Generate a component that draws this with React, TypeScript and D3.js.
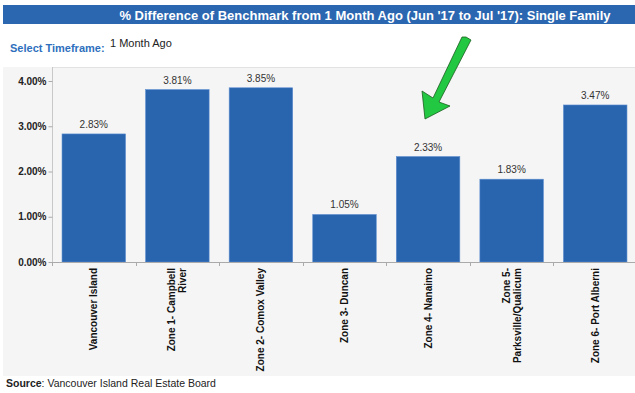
import React, { useEffect, useRef } from "react";
import * as d3 from "d3";

// chart data
const categories = [
  "Vancouver Island",
  "Zone 1- Campbell River",
  "Zone 2- Comox Valley",
  "Zone 3- Duncan",
  "Zone 4- Nanaimo",
  "Zone 5- Parksville/Qualicum",
  "Zone 6- Port Alberni",
];
// how the axis labels wrap
const labelLines = [
  ["Vancouver Island"],
  ["Zone 1- Campbell", "River"],
  ["Zone 2- Comox Valley"],
  ["Zone 3- Duncan"],
  ["Zone 4- Nanaimo"],
  ["Zone 5-", "Parksville/Qualicum"],
  ["Zone 6- Port Alberni"],
];
const values = [2.83, 3.81, 3.85, 1.05, 2.33, 1.83, 3.47];
const yTicks = [0, 1, 2, 3, 4];

const title = "% Difference of Benchmark from 1 Month Ago (Jun '17 to Jul '17): Single Family";

const App: React.FC = () => {
  const ref = useRef<HTMLDivElement>(null);

  useEffect(() => {
    if (!ref.current) return;
    d3.select(ref.current).selectAll("svg").remove();

    const width = 635;
    const height = 393;
    const font = "Arial, 'Liberation Sans', sans-serif";
    const blue = "#2964ae";

    const svg = d3.select(ref.current)
      .append("svg")
      .attr("width", width)
      .attr("height", height)
      .style("display", "block")
      .style("font-family", font);

    svg.append("rect").attr("width", width).attr("height", height).attr("fill", "#fff");

    // title bar
    svg.append("rect")
      .attr("x", 3).attr("y", 5).attr("width", width - 3).attr("height", 19)
      .attr("fill", "#2b66b0");
    svg.append("text")
      .attr("x", 365).attr("y", 19.5)
      .attr("text-anchor", "middle")
      .attr("fill", "#fff")
      .style("font-size", "13px")
      .style("font-weight", "bold")
      .text(title);

    // timeframe selector
    svg.append("text")
      .attr("x", 10).attr("y", 52)
      .attr("fill", "#2e6fbd")
      .style("font-size", "11px")
      .style("font-weight", "bold")
      .text("Select Timeframe:");
    svg.append("text")
      .attr("x", 110).attr("y", 47)
      .attr("fill", "#222")
      .style("font-size", "11px")
      .text("1 Month Ago");

    // panel background
    const panelTop = 67;
    svg.append("rect")
      .attr("x", 3).attr("y", panelTop).attr("width", width - 3).attr("height", 376 - panelTop)
      .attr("fill", "#f5f5f5");
    svg.append("line")
      .attr("x1", 52).attr("x2", width).attr("y1", panelTop + 0.5).attr("y2", panelTop + 0.5)
      .attr("stroke", "#e2e2e2");

    // scales
    const x = d3.scaleBand<string>()
      .domain(categories)
      .range([52, 637])
      .paddingInner(0.24)
      .paddingOuter(0.12);
    const y = d3.scaleLinear().domain([0, 4]).range([262, 81]);

    // y axis
    const yAxis = svg.append("g")
      .attr("transform", "translate(52.5,0)")
      .call(d3.axisLeft(y).tickValues(yTicks).tickSize(4).tickPadding(2).tickFormat(d => `${(+d).toFixed(2)}%`));
    yAxis.select(".domain").attr("d", `M0,${panelTop}V${y(0)}`).attr("stroke", "#c8c8c8");
    yAxis.selectAll(".tick line").attr("stroke", "#aaa");
    yAxis.selectAll(".tick text")
      .attr("fill", "#222")
      .style("font-size", "10px")
      .style("font-weight", "bold")
      .style("font-family", font);

    // bars
    svg.selectAll(".bar")
      .data(values)
      .join("rect")
      .attr("class", "bar")
      .attr("x", (d, i) => x(categories[i])!)
      .attr("y", d => y(d))
      .attr("width", x.bandwidth())
      .attr("height", d => y(0) - y(d))
      .attr("fill", blue)
      .attr("stroke", "#5d8ed0")
      .attr("stroke-width", 0.6);

    // value labels
    svg.selectAll(".val")
      .data(values)
      .join("text")
      .attr("class", "val")
      .attr("x", (d, i) => x(categories[i])! + x.bandwidth() / 2)
      .attr("y", d => y(d) - 6)
      .attr("text-anchor", "middle")
      .attr("fill", "#333")
      .style("font-size", "10px")
      .text(d => `${d.toFixed(2)}%`);

    // x axis baseline + ticks at band edges
    const step = x.step();
    const edges = categories.map(c => x(c)! - (step - x.bandwidth()) / 2);
    svg.append("line")
      .attr("x1", 52).attr("x2", width).attr("y1", y(0) + 0.5).attr("y2", y(0) + 0.5)
      .attr("stroke", "#aaa");
    svg.selectAll(".xtick")
      .data(edges)
      .join("line")
      .attr("class", "xtick")
      .attr("x1", d => Math.round(d) + 0.5).attr("x2", d => Math.round(d) + 0.5)
      .attr("y1", y(0)).attr("y2", y(0) + 4)
      .attr("stroke", "#aaa");

    // rotated category labels
    const labels = svg.selectAll(".xlabel")
      .data(categories)
      .join("text")
      .attr("class", "xlabel")
      .attr("transform", d => `translate(${x(d)! + x.bandwidth() / 2},268) rotate(-90)`)
      .attr("text-anchor", "end")
      .attr("fill", "#111")
      .style("font-size", "10px")
      .style("font-weight", "bold");
    labels.each(function (d, i) {
      const lines = labelLines[i];
      const t = d3.select(this);
      lines.forEach((ln, j) => {
        const off = (j - (lines.length - 1) / 2) * 11;
        t.append("tspan").attr("x", 0).attr("y", off).attr("dy", "0.35em").text(ln);
      });
    });

    // green arrow annotation
    const arrow = "M466,37 L471,40 L439,102 L450,106 L425,119 L422,91 L433,98 L462,37 Z";
    svg.append("path")
      .attr("d", arrow)
      .attr("fill", "#22c841")
      .attr("stroke", "#1b5e20")
      .attr("stroke-width", 0.8)
      .attr("stroke-linejoin", "round");

    // source
    const src = svg.append("text")
      .attr("x", 6).attr("y", 387)
      .attr("fill", "#222")
      .style("font-size", "10.5px");
    src.append("tspan").style("font-weight", "bold").text("Source");
    src.append("tspan").text(": Vancouver Island Real Estate Board");
  }, []);

  return <div ref={ref} style={{ position: "absolute", left: 0, top: 0 }} />;
};

export default App;
